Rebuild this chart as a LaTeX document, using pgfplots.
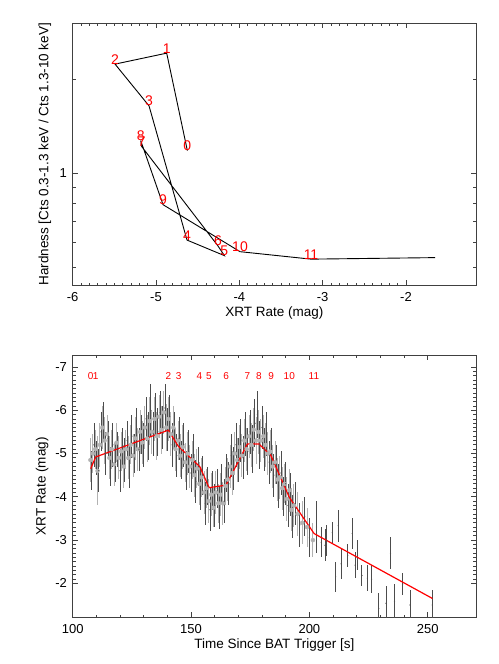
\documentclass[border=0pt]{standalone}
\usepackage{pgfplots}
\pgfplotsset{compat=1.18}
\usepackage{pgfplotstable}
\usepackage{fontspec}
\setmainfont{Liberation Sans}

% hardness ratio track (XRT rate vs hardness)
\pgfplotstableread{
x      y
-4.624 1.181
-4.872 2.417
-5.492 2.230
-5.084 1.641
-4.628 0.612
-4.180 0.546
-4.256 0.586
-5.172 1.217
-5.184 1.272
-4.916 0.794
-3.992 0.562
-3.140 0.532
-1.652 0.538
}\hardtrack

\pgfplotstableread{
x      y     lab
-4.624 1.181 0
-4.872 2.417 1
-5.492 2.230 2
-5.084 1.641 3
-4.628 0.612 4
-4.180 0.546 5
-4.256 0.586 6
-5.172 1.217 7
-5.184 1.272 8
-4.916 0.794 9
-3.992 0.562 10
-3.140 0.532 11
}\hardlabels

% light curve, dark bars
\pgfplotstableread{
t     m     e
108   -4.60 0.45
109   -5.20 0.50
110   -4.90 0.40
111   -4.60 0.50
112   -5.50 0.45
113   -5.75 0.45
114   -5.00 0.50
115   -5.35 0.40
116   -4.70 0.45
117   -5.20 0.50
118   -4.80 0.45
119   -5.10 0.40
120   -4.60 0.50
121   -5.15 0.45
122   -4.85 0.50
123   -5.30 0.45
124   -4.70 0.50
125   -5.40 0.50
126   -5.00 0.45
127   -5.55 0.50
128   -5.10 0.50
129   -5.45 0.45
130   -5.20 0.50
131   -5.80 0.50
132   -5.40 0.55
133   -6.00 0.60
134   -5.45 0.50
135   -5.90 0.50
136   -5.50 0.55
137   -5.95 0.50
138   -5.60 0.50
139   -6.05 0.55
140   -5.55 0.50
141   -5.85 0.50
142   -5.20 0.50
143   -5.50 0.45
144   -4.95 0.50
145   -5.35 0.50
146   -4.85 0.45
147   -5.20 0.50
148   -4.60 0.45
149   -5.05 0.50
150   -4.55 0.45
151   -4.95 0.50
152   -4.35 0.50
153   -4.70 0.45
154   -4.20 0.50
155   -4.50 0.45
156   -3.85 0.50
157   -4.25 0.45
158   -3.70 0.50
159   -4.15 0.45
160   -3.80 0.50
161   -4.20 0.45
162   -3.75 0.50
163   -4.30 0.45
164   -3.90 0.50
165   -4.55 0.45
166   -4.30 0.50
167   -4.95 0.50
168   -4.65 0.50
169   -5.20 0.50
170   -4.85 0.50
171   -5.30 0.50
172   -4.90 0.50
173   -5.45 0.50
174   -5.05 0.55
175   -5.50 0.50
176   -5.10 0.55
177   -5.70 0.55
178   -5.90 0.55
179   -5.20 0.55
180   -5.60 0.50
181   -5.10 0.50
182   -5.45 0.50
183   -4.80 0.50
184   -5.10 0.50
185   -4.50 0.50
186   -4.75 0.45
187   -4.25 0.50
188   -4.55 0.50
189   -4.00 0.45
190   -4.30 0.50
191   -3.80 0.50
192   -4.05 0.50
193   -3.55 0.50
194   -3.85 0.50
196   -3.35 0.50
198   -3.55 0.45
200   -3.05 0.45
203   -3.30 0.60
205   -2.95 0.35
206.6 -2.88 0.37
207.3 -2.99 0.35
209.7 -3.17 0.25
211.1 -2.15 0.35
212.2 -3.33 0.37
213.4 -2.45 0.35
216.2 -2.65 0.27
218.1 -3.15 0.35
219.3 -2.42 0.30
220.3 -2.65 0.35
222.2 -2.18 0.25
224.5 -2.12 0.30
226.3 -2.10 0.33
229.3 -1.42 0.35
232.4 -1.54 0.40
234.3 -2.69 0.37
236.0 -1.58 0.40
239.4 -1.98 0.25
242.5 -1.50 0.35
251.9 -1.50 0.35
}\lcdark

% light curve, grey bars
\pgfplotstableread{
t     m     e
107.5 -4.85 0.50
108.5 -5.00 0.45
109.5 -5.10 0.45
110.5 -4.60 0.80
111.5 -5.20 0.50
112.5 -5.60 0.50
113.5 -5.30 0.55
114.5 -5.45 0.45
115.5 -4.90 0.50
116.5 -5.10 0.45
117.5 -4.75 0.50
118.5 -5.25 0.45
119.5 -4.90 0.50
120.5 -5.05 0.45
121.5 -4.70 0.50
122.5 -5.10 0.45
123.5 -4.90 0.50
124.5 -5.20 0.45
125.5 -4.95 0.50
126.5 -5.35 0.50
127.5 -5.10 0.50
128.5 -5.50 0.50
129.5 -5.25 0.50
130.5 -5.60 0.50
131.5 -5.35 0.55
132.5 -5.75 0.55
133.5 -5.50 0.50
134.5 -5.80 0.50
135.5 -5.40 0.55
136.5 -5.85 0.50
137.5 -5.55 0.55
138.5 -5.95 0.50
139.5 -5.60 0.55
140.5 -5.80 0.50
141.5 -5.45 0.50
142.5 -5.60 0.50
143.5 -5.10 0.50
144.5 -5.30 0.45
145.5 -4.95 0.50
146.5 -5.15 0.50
147.5 -4.80 0.45
148.5 -5.00 0.50
149.5 -4.70 0.50
150.5 -4.85 0.45
151.5 -4.50 0.50
152.5 -4.65 0.45
153.5 -4.30 0.50
154.5 -4.45 0.45
155.5 -4.10 0.50
156.5 -4.20 0.45
157.5 -3.90 0.50
158.5 -4.05 0.50
159.5 -3.75 0.45
160.5 -4.10 0.50
161.5 -3.85 0.45
162.5 -4.05 0.50
163.5 -3.85 0.50
164.5 -4.25 0.45
165.5 -4.40 0.50
166.5 -4.70 0.50
167.5 -4.55 0.50
168.5 -5.00 0.50
169.5 -4.85 0.50
170.5 -5.15 0.50
171.5 -4.95 0.50
172.5 -5.30 0.50
173.5 -5.10 0.50
174.5 -5.40 0.50
175.5 -5.20 0.50
176.5 -5.55 0.50
177.5 -5.30 0.55
178.5 -5.50 0.50
179.5 -5.30 0.50
180.5 -5.40 0.50
181.5 -5.20 0.50
182.5 -5.00 0.50
183.5 -5.05 0.50
184.5 -4.70 0.50
185.5 -4.80 0.50
186.5 -4.40 0.50
187.5 -4.45 0.50
188.5 -4.20 0.50
189.5 -4.30 0.45
190.5 -3.95 0.50
191.5 -4.15 0.50
192.5 -3.70 0.50
193.5 -3.80 0.50
195   -3.60 0.50
197   -3.40 0.50
199   -3.30 0.45
201.5 -3.00 0.40
}\lcgrey

% piecewise track over the light curve
\pgfplotstableread{
t     m
107.6 -4.65
109.7 -4.92
140.4 -5.54
144.6 -5.17
153.8 -4.69
157.6 -4.21
164.8 -4.27
173.8 -5.22
178.7 -5.22
183.7 -4.96
191.5 -3.99
202.0 -3.15
252.0 -1.65
}\lctrack

\pgfplotstableread{
t     m     lab
107.6 -6.72 0
109.7 -6.72 1
140.4 -6.72 2
144.8 -6.72 3
153.5 -6.72 4
157.5 -6.72 5
164.8 -6.72 6
173.8 -6.72 7
178.7 -6.72 8
183.8 -6.72 9
191.5 -6.72 10
201.9 -6.72 11
}\lclabels

\pgfplotsset{idl/.style={
  width=403.3pt, height=262pt, scale only axis,
  axis line style={black!75, line width=0.8pt},
  every tick/.style={black!75, line width=0.8pt},
  major tick length=5pt, minor tick length=2.8pt,
  font=\fontsize{13.5}{16}\selectfont,
  tick label style={font=\fontsize{13}{15}\selectfont},
  /pgf/number format/assume math mode=true,
  xticklabel style={yshift=-3.5pt},
  yticklabel style={xshift=-2.3pt},
  xlabel style={at={(axis description cs:0.5,-0.105)}, anchor=center},
}}

\begin{document}
\begin{tikzpicture}
\useasboundingbox (0,0) rectangle (498pt,664pt);

\begin{axis}[idl, at={(72.7pt,378.7pt)}, anchor=south west,
  xmin=-6, xmax=-1.16, ymode=log, ymin=0.439, ymax=3.01,
  xtick={-6,-5,-4,-3,-2}, minor x tick num=9,
  ytick={1}, yticklabels={1}, minor ytick={0.5,0.6,0.7,0.8,0.9,2,3},
  xlabel={XRT Rate (mag)},
  ylabel={Hardness [Cts 0.3-1.3 keV / Cts 1.3-10 keV]},
  ylabel style={at={(axis description cs:-0.0687,0.5)}, anchor=center},
]
\addplot[black, line width=0.9pt, mark=none] table[x=x, y=y] {\hardtrack};
\addplot[draw=none, mark=none, nodes near coords, point meta=explicit symbolic,
  nodes near coords style={anchor=base, text=red, inner sep=0pt,
    font=\fontsize{14}{16}\selectfont}]
  table[x=x, y=y, meta=lab] {\hardlabels};
\end{axis}

\begin{axis}[idl, at={(72.7pt,46.7pt)}, anchor=south west,
  xmin=100, xmax=270.4, ymin=-7.27, ymax=-1.215, y dir=reverse,
  xtick={100,150,200,250}, minor x tick num=4,
  ytick={-7,-6,-5,-4,-3,-2}, minor y tick num=9,
  xlabel={Time Since BAT Trigger [s]},
  ylabel={XRT Rate (mag)},
  ylabel style={at={(axis description cs:-0.0761,0.5)}, anchor=center},
]
\addplot[black!30, only marks, mark=none,
  error bars/.cd, y dir=both, y explicit, error mark=none,
  error bar style={black!30, line width=1pt}]
  table[x=t, y=m, y error=e] {\lcgrey};
\addplot[black!70, only marks, mark=*, mark size=0.35pt,
  error bars/.cd, y dir=both, y explicit, error mark=none,
  error bar style={black!70, line width=0.9pt}]
  table[x=t, y=m, y error=e] {\lcdark};
\addplot[red, line width=1.2pt, mark=none] table[x=t, y=m] {\lctrack};
\addplot[draw=none, mark=none, nodes near coords, point meta=explicit symbolic,
  nodes near coords style={anchor=base, text=red, inner sep=0pt,
    font=\fontsize{10}{12}\selectfont}]
  table[x=t, y=m, meta=lab] {\lclabels};
\end{axis}
\end{tikzpicture}
\end{document}
